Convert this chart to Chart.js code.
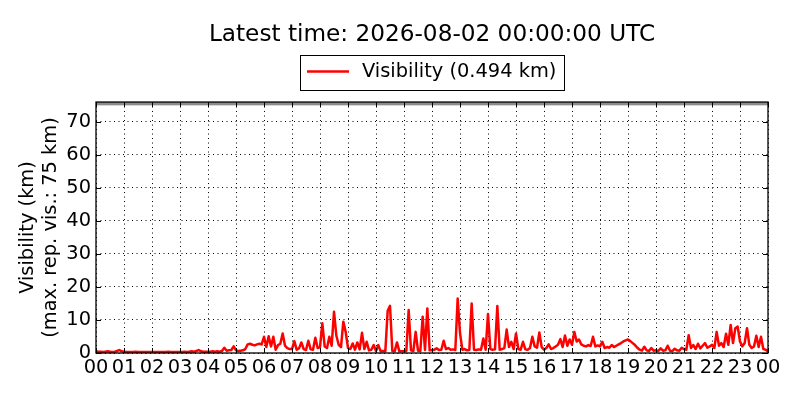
<!DOCTYPE html>
<html><head><meta charset="utf-8">
<script src="https://cdn.jsdelivr.net/npm/chart.js@4"></script>
<style>html,body{margin:0;padding:0;background:#fff}</style>
</head><body>
<canvas id="c" width="800" height="400"></canvas>
<script>
const titleText = 'Latest time: 2026-08-02 00:00:00 UTC';
const seriesLabel = 'Visibility (0.494 km)';
const yAxisTitle = ['Visibility (km)', '(max. rep. vis.: 75 km)'];
const hourTickLabels = ['00','01','02','03','04','05','06','07','08','09','10','11','12',
  '13','14','15','16','17','18','19','20','21','22','23','00'];
const maxRepVis = 75;
const stepMinutes = 5;
const visibility = [
  0.5,0.4,0.4,0.3,0.4,0.5,0.4,0.3,0.4,0.6,0.9,0.5,
  0.4,0.3,0.3,0.3,0.3,0.4,0.3,0.3,0.3,0.3,0.3,0.3,
  0.3,0.3,0.3,0.3,0.3,0.3,0.3,0.4,0.3,0.3,0.3,0.3,
  0.3,0.3,0.4,0.3,0.4,0.5,0.4,0.6,0.9,0.5,0.4,0.4,
  0.4,0.4,0.5,0.4,0.5,0.4,0.6,1.6,0.7,0.8,0.9,2.0,
  0.8,0.6,0.7,0.8,1.2,2.6,2.8,2.5,2.3,2.6,2.8,2.6,
  4.9,1.8,5.1,2.0,4.9,1.0,2.4,2.8,5.9,2.2,1.5,1.2,
  1.2,3.6,1.0,1.4,3.2,1.2,0.9,3.7,1.1,1.0,4.6,1.5,
  1.8,9.0,2.0,1.5,4.9,2.2,12.5,5.3,2.5,1.8,9.5,6.4,
  1.5,1.2,2.9,1.0,3.2,1.1,6.1,1.2,3.4,0.8,1.0,2.4,
  0.6,2.4,0.5,0.6,0.5,12.8,14.3,0.6,0.5,3.2,0.5,0.5,
  0.5,0.6,13.0,0.8,0.6,6.4,0.7,0.6,11.0,0.9,13.5,0.8,
  0.8,1.0,1.4,0.9,1.0,3.7,1.2,1.5,1.0,1.1,0.9,16.5,
  6.1,1.0,1.2,0.8,0.9,15.0,1.0,0.9,1.1,1.0,4.4,1.0,
  11.8,1.2,1.0,1.1,14.2,1.0,1.2,1.5,7.1,1.8,3.4,1.2,
  5.9,1.2,1.0,3.4,1.1,1.0,1.5,4.9,2.0,1.6,6.2,1.8,
  1.0,1.5,2.6,1.2,1.5,2.0,2.5,4.2,1.8,5.3,2.2,4.1,
  2.5,6.4,3.5,4.1,2.6,2.2,2.0,2.4,2.1,4.9,2.0,2.3,
  2.0,3.4,1.5,1.8,1.6,2.4,1.8,2.2,2.6,3.0,3.5,3.8,
  4.1,3.6,3.0,2.4,1.6,1.0,0.7,1.9,0.8,0.6,1.5,0.7,
  0.8,0.6,1.4,0.7,0.8,2.2,0.7,0.6,1.3,0.8,0.7,1.6,
  1.2,1.0,5.4,1.5,2.4,1.2,2.8,1.4,2.2,3.0,1.6,2.0,
  2.5,1.5,6.4,2.2,3.0,1.8,5.8,2.5,8.5,3.0,7.5,8.0,
  3.5,2.0,3.0,7.5,2.5,1.5,2.0,5.2,1.8,4.9,1.2,1.0,
  0.494
];

const FONT = 'DejaVu Sans';
const lineColor = '#ff0000';

const decor = {
  id: 'decor',
  afterLayout(chart) {
    const tb = chart.titleBlock;
    if (tb) {
      tb.left = chart.chartArea.left;
      tb.right = chart.chartArea.right;
      tb.width = tb.right - tb.left;
    }
  },
  beforeDatasetsDraw(chart) {
    const {ctx, chartArea: a, scales: {y}} = chart;
    const yb = y.getPixelForValue(maxRepVis);
    ctx.save();
    ctx.fillStyle = '#8c8c8c';
    ctx.fillRect(a.left, a.top, a.right - a.left, yb - a.top);
    ctx.restore();
  },
  afterDraw(chart) {
    const {ctx, chartArea: a, scales: {x, y}} = chart;
    ctx.save();
    ctx.strokeStyle = '#000';
    ctx.lineWidth = 1;
    const tl = 5;
    ctx.beginPath();
    x.ticks.forEach(t => {
      const px = Math.round(x.getPixelForValue(t.value)) + 0.5;
      ctx.moveTo(px, a.bottom); ctx.lineTo(px, a.bottom - tl);
      ctx.moveTo(px, a.top); ctx.lineTo(px, a.top + tl);
    });
    y.ticks.forEach(t => {
      const py = Math.round(y.getPixelForValue(t.value)) + 0.5;
      ctx.moveTo(a.left, py); ctx.lineTo(a.left + tl, py);
      ctx.moveTo(a.right, py); ctx.lineTo(a.right - tl, py);
    });
    ctx.stroke();
    ctx.lineWidth = 1.3;
    ctx.strokeRect(a.left, a.top, a.right - a.left, a.bottom - a.top);

    // legend box
    const bx = 300, by = 55, bw = 264, bh = 35;
    ctx.fillStyle = '#fff';
    ctx.fillRect(bx, by, bw, bh);
    ctx.lineWidth = 1;
    ctx.strokeStyle = '#000';
    ctx.strokeRect(bx + 0.5, by + 0.5, bw, bh);
    ctx.strokeStyle = lineColor;
    ctx.lineWidth = 2.5;
    ctx.beginPath();
    ctx.moveTo(307, 71.5); ctx.lineTo(349, 71.5);
    ctx.stroke();
    ctx.fillStyle = '#000';
    ctx.font = '19.4px "' + FONT + '"';
    ctx.textBaseline = 'middle';
    ctx.textAlign = 'left';
    ctx.fillText(chart.data.datasets[0].label, 362, 72);
    ctx.restore();
  }
};

new Chart(document.getElementById('c'), {
  type: 'line',
  data: {
    datasets: [{
      label: seriesLabel,
      data: visibility.map((v, i) => ({x: i * stepMinutes / 60, y: v})),
      borderColor: lineColor,
      backgroundColor: lineColor,
      borderWidth: 2.5,
      pointRadius: 0,
      tension: 0,
      borderJoinStyle: 'round',
      fill: false
    }]
  },
  options: {
    responsive: false,
    animation: false,
    devicePixelRatio: 1,
    layout: {padding: {top: 0, right: 32, bottom: 0, left: 0}},
    plugins: {
      legend: {display: false},
      tooltip: {enabled: false},
      title: {
        display: true,
        text: titleText,
        color: '#000',
        font: {family: FONT, size: 23.2, weight: 'normal', lineHeight: 1.2},
        padding: {top: 21, bottom: 53.2}
      }
    },
    scales: {
      x: {
        type: 'linear',
        min: 0, max: 24,
        afterFit(s) { s.height = 47; },
        ticks: {
          stepSize: 1, autoSkip: false, maxRotation: 0, padding: 3,
          color: '#000',
          font: {family: FONT, size: 19.4},
          callback: v => hourTickLabels[v]
        },
        grid: {color: '#000', lineWidth: 1, drawTicks: false},
        border: {display: false, dash: [1, 3.5]}
      },
      y: {
        min: 0, max: 76,
        afterFit(s) { s.width = 96; },
        ticks: {
          stepSize: 10, includeBounds: false, padding: 5,
          color: '#000',
          font: {family: FONT, size: 19.4}
        },
        grid: {color: '#000', lineWidth: 1, drawTicks: false},
        border: {display: false, dash: [1, 3.5]},
        title: {
          display: true,
          text: yAxisTitle,
          color: '#000',
          font: {family: FONT, size: 19.4, lineHeight: 1.16},
          padding: {top: 17, bottom: 0}
        }
      }
    }
  },
  plugins: [decor]
});
</script>
</body></html>
